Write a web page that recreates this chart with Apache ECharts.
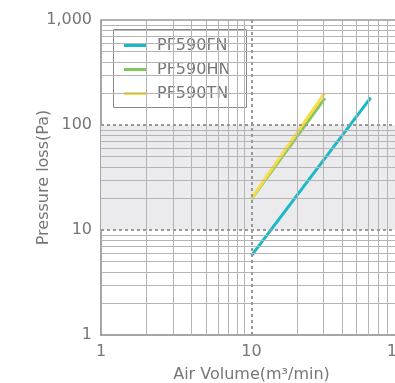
<!DOCTYPE html>
<html><head><meta charset="utf-8">
<script src="https://cdn.jsdelivr.net/npm/echarts@6/dist/echarts.min.js"></script>
<style>html,body{margin:0;padding:0;background:#fff}#c{width:395px;height:383px}</style>
</head><body><div id="c"></div>
<script>
const seriesNames = ['PF590FN', 'PF590HN', 'PF590TN'];
const fnX = [10, 62];   const fnY = [5.7, 182];
const hnX = [10, 30.8]; const hnY = [19.8, 180];
const tnX = [10, 30.5]; const tnY = [20, 200];
const xMinorLines = [2,3,4,5,6,7,8,9,20,30,40,50,60,70,80,90];
const yMinorLines = [2,3,4,5,6,7,8,9,20,30,40,50,60,70,80,90,200,300,400,500,600,700,800,900];
const xMajorLines = [10];
const yMajorLines = [10, 100];
const shadeBand = [10, 100];
const xRange = [1, 100];
const yRange = [1, 1000];
const xTitle = 'Air Volume(m³/min)';
const yTitle = 'Pressure loss(Pa)';
const colors = ['#19b9c7', '#84c75b', '#fadc45'];

const FONT = 'DejaVu Sans';
const txt = '#777';
const pair = (xs, ys) => xs.map((x, i) => [x, ys[i]]);

const chart = echarts.init(document.getElementById('c'), null, {renderer: 'canvas'});
const lineMarks = [];
xMinorLines.forEach(v => lineMarks.push({xAxis: v, lineStyle: {color: '#b4b4b4', width: 1, type: 'solid'}}));
yMinorLines.forEach(v => lineMarks.push({yAxis: v, lineStyle: {color: '#b4b4b4', width: 1, type: 'solid'}}));
lineMarks.push({yAxis: yRange[1], lineStyle: {color: '#999', width: 1.5, type: 'solid'}});
xMajorLines.forEach(v => lineMarks.push({xAxis: v, lineStyle: {color: '#999', width: 2, type: [3, 3]}}));
yMajorLines.forEach(v => lineMarks.push({yAxis: v, lineStyle: {color: '#999', width: 2, type: [3, 3]}}));

chart.setOption({
  animation: false,
  grid: {left: 101, top: 20, bottom: 48, right: -7, outerBoundsMode: 'none', containLabel: false},
  graphic: [{
    type: 'rect', z: 3, left: 113, top: 29,
    shape: {width: 133, height: 78},
    style: {fill: '#fff', stroke: '#8a8a8a', lineWidth: 1}
  }],
  legend: {
    z: 5, left: 113, top: 37, orient: 'vertical',
    padding: [0, 0, 0, 11],
    itemWidth: 23, itemHeight: 3, itemGap: 7, icon: 'rect',
    data: seriesNames.map((n, i) => ({name: n, itemStyle: {color: colors[i]}})),
    textStyle: {fontFamily: FONT, fontSize: 16, color: txt, padding: [0, 0, 0, 5], lineHeight: 17}
  },
  xAxis: {
    type: 'log', logBase: 10, min: xRange[0], max: xRange[1],
    name: xTitle, nameLocation: 'middle', nameGap: 32, nameMoveOverlap: false,
    nameTextStyle: {fontFamily: FONT, fontSize: 16, color: txt},
    axisLine: {show: true, lineStyle: {color: '#888', width: 1.5}},
    axisTick: {show: false},
    splitLine: {show: false},
    axisLabel: {fontFamily: FONT, fontSize: 16, color: txt, margin: 9, formatter: v => String(Math.round(v))}
  },
  yAxis: {
    type: 'log', logBase: 10, min: yRange[0], max: yRange[1],
    name: yTitle, nameLocation: 'middle', nameGap: 49, nameRotate: 90, nameMoveOverlap: false,
    nameTextStyle: {fontFamily: FONT, fontSize: 16, color: txt},
    axisLine: {show: true, lineStyle: {color: '#888', width: 1.5}},
    axisTick: {show: false},
    splitLine: {show: false},
    axisLabel: {fontFamily: FONT, fontSize: 16, color: txt, margin: 9,
      formatter: v => Math.round(v).toLocaleString('en-US')}
  },
  series: [
    {name: 'shade', type: 'line', data: [], silent: true, z: 0,
      markArea: {silent: true, itemStyle: {color: '#ebebed'},
        data: [[{yAxis: shadeBand[0]}, {yAxis: shadeBand[1]}]]}},
    {name: 'gridlines', type: 'line', data: [], silent: true, z: 1,
      markLine: {silent: true, symbol: 'none', label: {show: false}, animation: false, data: lineMarks}},
    {name: seriesNames[0], type: 'line', z: 2, showSymbol: false, data: pair(fnX, fnY),
      itemStyle: {color: colors[0]}, lineStyle: {width: 3, color: colors[0]}},
    {name: seriesNames[1], type: 'line', z: 2, showSymbol: false, data: pair(hnX, hnY),
      itemStyle: {color: colors[1]}, lineStyle: {width: 3, color: colors[1]}},
    {name: seriesNames[2], type: 'line', z: 2, showSymbol: false, data: pair(tnX, tnY),
      itemStyle: {color: colors[2]}, lineStyle: {width: 3, color: colors[2]}}
  ]
});
</script></body></html>
